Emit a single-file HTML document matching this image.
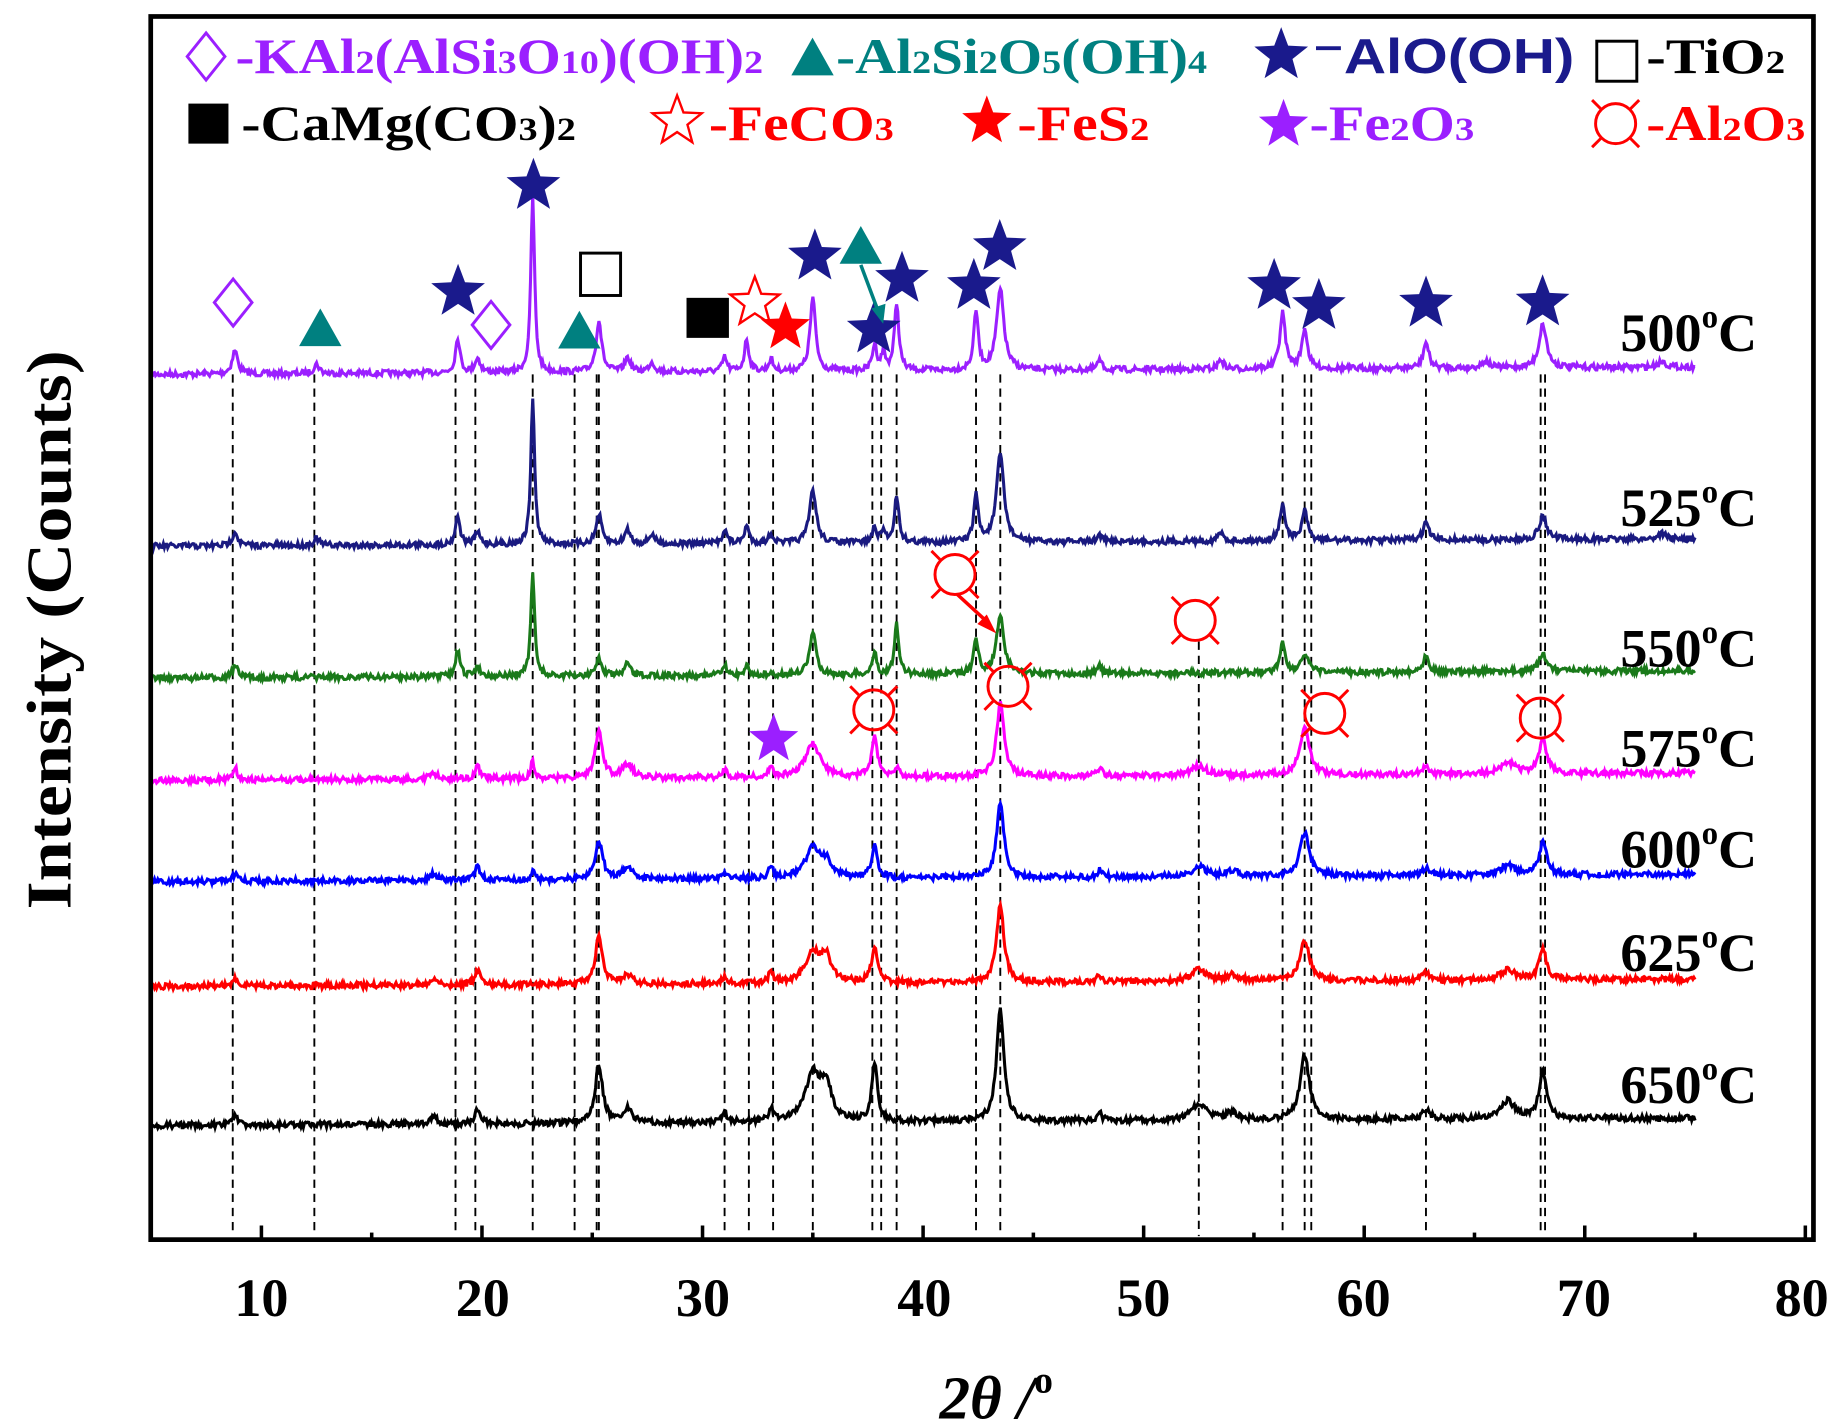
<!DOCTYPE html>
<html><head><meta charset="utf-8"><style>html,body{margin:0;padding:0;background:#fff}svg{display:block}svg text{font-family:"Liberation Serif",serif;font-weight:bold}</style></head>
<body>
<svg id="s" xmlns="http://www.w3.org/2000/svg" width="1837" height="1428" viewBox="0 0 1560 1213" preserveAspectRatio="none">
<rect width="1560" height="1213" fill="#fff"/>
<g id="dash" stroke="#000" stroke-width="1.6" stroke-dasharray="7,5"></g>
<g id="traces" fill="none" stroke-width="2.6"></g>
<rect x="128" y="14" width="1412" height="1039" fill="none" stroke="#000" stroke-width="4"/>
<g id="ticks" stroke="#000" stroke-width="3"></g>
<g font-size="46" text-anchor="middle" fill="#000">
<text x="222" y="1118">10</text><text x="410" y="1118">20</text><text x="597" y="1118">30</text><text x="785" y="1118">40</text><text x="971" y="1118">50</text><text x="1158" y="1118">60</text><text x="1345" y="1118">70</text><text x="1530" y="1118">80</text>
</g>
<text x="846" y="1205" font-size="52" text-anchor="middle" font-style="italic">2θ /<tspan font-style="normal" font-size="32" dy="-22">o</tspan></text>
<text transform="translate(60,535) rotate(-90)" font-size="54" text-anchor="middle" textLength="475" lengthAdjust="spacingAndGlyphs">Intensity (Counts)</text>
<g font-size="46" fill="#000">
<text x="1376" y="298">500<tspan font-size="28" dy="-20">o</tspan><tspan dy="20">C</tspan></text>
<text x="1376" y="447">525<tspan font-size="28" dy="-20">o</tspan><tspan dy="20">C</tspan></text>
<text x="1376" y="566">550<tspan font-size="28" dy="-20">o</tspan><tspan dy="20">C</tspan></text>
<text x="1376" y="651">575<tspan font-size="28" dy="-20">o</tspan><tspan dy="20">C</tspan></text>
<text x="1376" y="737">600<tspan font-size="28" dy="-20">o</tspan><tspan dy="20">C</tspan></text>
<text x="1376" y="825">625<tspan font-size="28" dy="-20">o</tspan><tspan dy="20">C</tspan></text>
<text x="1376" y="937">650<tspan font-size="28" dy="-20">o</tspan><tspan dy="20">C</tspan></text>
</g>
<g font-size="42">
<text x="200" y="62" fill="#9b1fff" textLength="448" lengthAdjust="spacingAndGlyphs">-KAl<tspan font-size="28">2</tspan>(AlSi<tspan font-size="28">3</tspan>O<tspan font-size="28">10</tspan>)(OH)<tspan font-size="28">2</tspan></text>
<text x="710" y="62" fill="#008080" textLength="315" lengthAdjust="spacingAndGlyphs">-Al<tspan font-size="28">2</tspan>Si<tspan font-size="28">2</tspan>O<tspan font-size="28">5</tspan>(OH)<tspan font-size="28">4</tspan></text>
<text x="1115" y="62" fill="#1a1a8c" style="font-family:'Liberation Sans',sans-serif" textLength="222" lengthAdjust="spacingAndGlyphs">⁻AlO(OH)</text>
<text x="1398" y="62" fill="#000" textLength="118" lengthAdjust="spacingAndGlyphs">-TiO<tspan font-size="28">2</tspan></text>
<text x="205" y="119" fill="#000" textLength="284" lengthAdjust="spacingAndGlyphs">-CaMg(CO<tspan font-size="28">3</tspan>)<tspan font-size="28">2</tspan></text>
<text x="602" y="119" fill="#ff0000" textLength="157" lengthAdjust="spacingAndGlyphs">-FeCO<tspan font-size="28">3</tspan></text>
<text x="864" y="119" fill="#ff0000" textLength="112" lengthAdjust="spacingAndGlyphs">-FeS<tspan font-size="28">2</tspan></text>
<text x="1112" y="119" fill="#9b1fff" textLength="140" lengthAdjust="spacingAndGlyphs">-Fe<tspan font-size="28">2</tspan>O<tspan font-size="28">3</tspan></text>
<text x="1398" y="119" fill="#ff0000" textLength="135" lengthAdjust="spacingAndGlyphs">-Al<tspan font-size="28">2</tspan>O<tspan font-size="28">3</tspan></text>
</g>
<g id="marks"></g>
</svg>
<script>
var NS="http://www.w3.org/2000/svg";
function el(p,t,a){var e=document.createElementNS(NS,t);for(var k in a)e.setAttribute(k,a[k]);document.getElementById(p).appendChild(e);return e;}
function X(t){return 222+(t-10)*18.73;}
for(var t=10;t<=80;t+=5){var L=(t%10==0)?12:6;el("ticks","line",{x1:X(t),x2:X(t),y1:1053,y2:1053-L});}
var dl=[8.7,12.4,18.8,19.7,22.3,24.2,25.2,25.3,31.0,32.1,33.2,35.0,37.7,38.1,38.8,42.4,43.5,56.3,57.3,57.6,62.8,68.0,68.2];
dl.forEach(function(d){el("dash","line",{x1:X(d),x2:X(d),y1:318,y2:1050});});
el("dash","line",{x1:X(52.5),x2:X(52.5),y1:545,y2:1050});
var seed=7;function rnd(){seed=(seed*16807)%2147483647;return seed/2147483647;}
var S=[
["#9b1fff",312,[[8.8,20,.15],[12.5,8,.15],[18.9,30,.12],[19.8,12,.15],[22.3,150,.1],[25.3,44,.15],[26.6,12,.15],[27.7,8,.15],[31,12,.12],[32,27,.12],[33.1,10,.12],[35,62,.15],[37.8,22,.12],[38.2,15,.1],[38.8,57,.12],[42.4,50,.12],[43.5,68,.2],[48,8,.12],[53.5,8,.15],[56.3,47,.15],[57.3,34,.15],[62.8,22,.15],[65.5,6,.2],[68.1,37,.2],[73.5,5,.2]]],
["#1a1a80",458,[[8.8,12,.15],[12.5,6,.15],[18.9,25,.12],[19.8,10,.15],[22.3,125,.1],[25.3,25,.15],[26.6,12,.15],[27.7,8,.15],[31,12,.12],[32,15,.12],[33.1,8,.12],[35,45,.18],[37.8,12,.12],[38.2,10,.1],[38.8,40,.12],[42.4,40,.12],[43.5,75,.2],[48,6,.12],[53.5,7,.15],[56.3,30,.15],[57.3,25,.15],[62.8,15,.15],[68.1,20,.2],[73.5,5,.2]]],
["#1a7a1a",570,[[8.8,10,.15],[18.9,22,.12],[19.8,8,.15],[22.3,88,.1],[25.3,15,.15],[26.6,10,.15],[31,8,.12],[32,8,.12],[35,35,.18],[37.8,18,.12],[38.8,42,.12],[42.4,30,.12],[43.5,50,.2],[48,6,.12],[56.3,25,.15],[57.3,15,.2],[62.8,15,.15],[68.1,15,.2]]],
["#ff00ff",657,[[8.8,10,.15],[17.8,5,.2],[19.8,10,.15],[22.3,15,.1],[25.3,40,.2],[26.6,12,.25],[31,6,.15],[33.1,8,.12],[35,28,.4],[37.8,35,.15],[38.8,7,.15],[43.5,62,.2],[48,7,.12],[52.5,8,.4],[57.3,42,.25],[62.8,7,.2],[66.5,10,.4],[68.1,30,.2]]],
["#0000ff",743,[[8.8,6,.15],[17.8,5,.2],[19.8,12,.15],[22.3,8,.1],[25.3,33,.2],[26.6,10,.25],[31,6,.15],[33.1,10,.12],[35,25,.4],[35.6,12,.3],[37.8,28,.15],[43.5,62,.2],[48,6,.12],[52.5,8,.4],[54,5,.3],[57.3,37,.25],[62.8,6,.2],[66.5,8,.4],[68.1,28,.2]]],
["#ff0000",832,[[8.8,6,.15],[17.8,5,.2],[19.8,12,.15],[25.3,40,.2],[26.6,8,.25],[31,6,.15],[33.1,10,.12],[35,25,.4],[35.6,20,.3],[37.8,32,.15],[43.5,65,.2],[48,6,.12],[52.5,10,.4],[54,5,.3],[57.3,35,.25],[62.8,6,.2],[66.5,8,.4],[68.1,25,.2]]],
["#000000",950,[[8.8,8,.15],[17.8,6,.2],[19.8,12,.15],[25.3,50,.2],[26.6,12,.25],[31,8,.15],[33.1,12,.12],[35,40,.4],[35.6,28,.3],[37.8,50,.15],[43.5,95,.2],[48,7,.12],[52.5,14,.4],[54,6,.3],[57.3,55,.25],[62.8,8,.2],[66.5,15,.4],[68.1,40,.2]]]
];
S.forEach(function(s){var d="";for(var i=0;i<=1400;i++){var t=5+i*70/1400;var y=s[1]+6-(t-5)*0.09;
 s[2].forEach(function(p){var u=(t-p[0])/p[2];y-=p[1]/(1+u*u);});
 y+= (rnd()-0.5)*5;d+=(i?"L":"M")+X(t).toFixed(1)+" "+y.toFixed(1);}
 el("traces","path",{d:d,stroke:s[0]});});
function star(cx,cy,R,fill,stroke){var r=R*0.42,d="";for(var i=0;i<10;i++){var a=-Math.PI/2+i*Math.PI/5,rr=i%2?r:R;d+=(i?"L":"M")+(cx+rr*Math.cos(a)).toFixed(1)+" "+(cy+rr*Math.sin(a)).toFixed(1);}
 el("marks","path",{d:d+"Z",fill:fill,stroke:stroke||"none","stroke-width":2});}
var N="#1a1a8c";
[[453,158],[389,248],[692,218],[766,237],[827,243],[849,210],[742,280],[1082,243],[1120,260],[1211,258],[1310,257],[1088,47]].forEach(function(p){star(p[0],p[1],24,N);});
star(575,103,22,"none","#ff0000");star(641,257,22,"none","#ff0000");
star(838,103,22,"#ff0000");star(667,278,22,"#ff0000");
star(1090,106,22,"#9b1fff");star(657,628,22,"#9b1fff");
function dia(cx,cy){el("marks","path",{d:"M"+cx+" "+(cy-20)+"L"+(cx+16)+" "+cy+"L"+cx+" "+(cy+20)+"L"+(cx-16)+" "+cy+"Z",fill:"none",stroke:"#9b1fff","stroke-width":2.5});}
dia(175,48);dia(198,257);dia(417,276);
function tri(cx,cy){el("marks","path",{d:"M"+cx+" "+(cy-18)+"L"+(cx+18)+" "+(cy+14)+"L"+(cx-18)+" "+(cy+14)+"Z",fill:"#008080"});}
tri(690,50);tri(272,280);tri(492,282);tri(731,210);
el("marks","line",{x1:731,y1:225,x2:746,y2:265,stroke:"#008080","stroke-width":3});
el("marks","path",{d:"M740 262L750 275L752 258Z",fill:"#008080"});
el("marks","rect",{x:1356,y:35,width:34,height:34,fill:"none",stroke:"#000","stroke-width":2.5});
el("marks","rect",{x:493,y:215,width:34,height:36,fill:"#fff",stroke:"#000","stroke-width":2.5});
el("marks","rect",{x:160,y:88,width:34,height:34,fill:"#000"});
el("marks","rect",{x:583,y:253,width:36,height:34,fill:"#000"});
function alo(cx,cy){el("marks","circle",{cx:cx,cy:cy,r:17,fill:"none",stroke:"#ff0000","stroke-width":2.5});
 [[-1,-1],[1,-1],[-1,1],[1,1]].forEach(function(q){el("marks","line",{x1:cx+q[0]*12,y1:cy+q[1]*12,x2:cx+q[0]*20,y2:cy+q[1]*20,stroke:"#ff0000","stroke-width":2.5});});}
alo(1372,105);alo(811,488);alo(1015,527);alo(856,583);alo(742,603);alo(1125,606);alo(1308,610);
el("marks","line",{x1:813,y1:505,x2:837,y2:527,stroke:"#ff0000","stroke-width":3});
el("marks","path",{d:"M830 530L846 538L838 522Z",fill:"#ff0000"});
</script>
</body></html>
